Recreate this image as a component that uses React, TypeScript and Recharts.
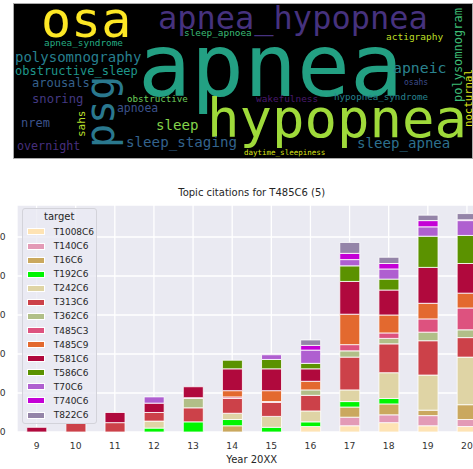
import {
  Bar,
  BarChart,
  CartesianGrid,
  Legend,
  Scatter,
  ScatterChart,
  XAxis,
  YAxis,
} from "recharts";

// ---- word cloud ----
const words = [
  "osa", "apnea_hypopnea", "apnea", "hypopnea", "psg", "polysomnography",
  "apnea_syndrome", "sleep_apnoea", "actigraphy", "polysomnogram", "nocturnal",
  "obstructive_sleep", "apneic", "arousals", "osahs", "snoring", "obstructive",
  "wakefulness", "hypopnea_syndrome", "apnoea", "sahs", "sleep", "nrem",
  "overnight", "sleep_staging", "sleep_apnea", "daytime_sleepiness",
];
const wordX = [41, 158, 138, 207, 114, 15, 44, 184, 386, 462, 472, 15, 393, 32, 404, 32, 127, 256, 334, 117, 85, 156, 21, 17, 126, 357, 244];
const wordY = [37, 29, 96, 137, 148, 62, 46, 36, 40, 102, 127, 75, 73, 87, 85, 103, 102, 102, 100, 112, 137, 130, 127, 150, 147, 148, 155];
const wordSize = [50, 32, 88, 54, 40, 14, 9.4, 9.4, 9.5, 12, 10.7, 12, 14.8, 12, 8, 12.2, 9.2, 9.4, 9.2, 11.4, 11, 14.1, 12, 11.7, 14.2, 14.1, 7.5];
const wordColor = [
  "#FDE725", "#46327E", "#23A083", "#9FDA3A", "#2A788E", "#277F8E",
  "#25AB82", "#3BBB75", "#BDDF26", "#3DBC74", "#DDE318", "#1F968B",
  "#2A828E", "#35608D", "#3E4C8A", "#443983", "#6CCD5A", "#481A6C",
  "#26828E", "#3B528B", "#B5DE2B", "#84D44B", "#3B528B", "#472F7D",
  "#33638D", "#2D718E", "#DDE318",
];
const wordAngle = [0, 0, 0, 0, -90, 0, 0, 0, 0, -90, -90, 0, 0, 0, 0, 0, 0, 0, 0, 0, -90, 0, 0, 0, 0, 0, 0];

const cloudData = words.map((w, i) => ({
  word: w,
  x: wordX[i],
  y: wordY[i],
  size: wordSize[i],
  color: wordColor[i],
  angle: wordAngle[i],
}));

// ---- bar chart ----
const years = ["9", "10", "11", "12", "13", "14", "15", "16", "17", "18", "19", "20"];
const T1008C6 = [0, 0, 0, 0, 0, 0, 0, 7, 8, 12, 8, 7];
const T140C6 = [0, 0, 0, 0, 0, 0, 0, 0, 11, 10, 13, 9];
const T16C6 = [0, 0, 0, 0, 0, 8, 0, 0, 13, 14, 7, 19];
const T192C6 = [0, 0, 0, 5, 13, 8, 6, 6, 7, 7, 0, 0];
const T242C6 = [0, 0, 0, 9, 0, 8, 14, 14, 15, 33, 45, 61];
const T313C6 = [0, 12, 12, 11, 18, 19, 18, 20, 42, 37, 44, 25];
const T362C6 = [0, 0, 0, 0, 12, 0, 0, 7, 8, 7, 11, 10];
const T485C3 = [0, 0, 0, 0, 1, 2, 1, 0, 8, 7, 17, 28];
const T485C9 = [0, 0, 0, 0, 0, 8, 14, 11, 39, 23, 20, 19];
const T581C6 = [6, 0, 13, 12, 14, 28, 28, 16, 42, 32, 46, 38];
const T586C6 = [0, 0, 0, 0, 0, 11, 12, 7, 20, 14, 40, 36];
const T70C6 = [0, 0, 0, 8, 0, 0, 6, 17, 8, 13, 12, 19];
const T740C6 = [0, 0, 0, 0, 0, 0, 0, 6, 8, 7, 8, 1];
const T822C6 = [0, 0, 0, 0, 0, 0, 0, 7, 14, 8, 7, 8];
const yTicks = [0, 50, 100, 150, 200, 250];

const series = [
  { name: "T1008C6", values: T1008C6, color: "#FEE3B4" },
  { name: "T140C6", values: T140C6, color: "#E39AB6" },
  { name: "T16C6", values: T16C6, color: "#CAA85E" },
  { name: "T192C6", values: T192C6, color: "#00F500" },
  { name: "T242C6", values: T242C6, color: "#DFD4A5" },
  { name: "T313C6", values: T313C6, color: "#CC4149" },
  { name: "T362C6", values: T362C6, color: "#B1BF88" },
  { name: "T485C3", values: T485C3, color: "#DD527F" },
  { name: "T485C9", values: T485C9, color: "#E3692F" },
  { name: "T581C6", values: T581C6, color: "#B0093D" },
  { name: "T586C6", values: T586C6, color: "#5B9200" },
  { name: "T70C6", values: T70C6, color: "#AF5FD0" },
  { name: "T740C6", values: T740C6, color: "#C400D6" },
  { name: "T822C6", values: T822C6, color: "#9484A8" },
];

const table = years.map((year, i) => {
  const row: Record<string, string | number> = { year };
  series.forEach((s) => (row[s.name] = s.values[i]));
  return row;
});

const SANS = "'DejaVu Sans', sans-serif";
const MONO = "'DejaVu Sans Mono', monospace";

const WordShape = (props: any) => {
  const { cx, cy, payload } = props;
  return (
    <text
      x={cx}
      y={cy}
      fontSize={payload.size}
      fill={payload.color}
      fontFamily={MONO}
      transform={payload.angle ? `rotate(${payload.angle} ${cx} ${cy})` : undefined}
    >
      {payload.word}
    </text>
  );
};

const LegendBox = (props: any) => {
  const items = props.payload || [];
  return (
    <div
      style={{
        position: "relative",
        width: 75,
        height: 216,
        boxSizing: "border-box",
        border: "1px solid #d3d3da",
        borderRadius: 3,
        background: "rgba(234,234,242,0.8)",
        fontFamily: SANS,
        color: "#262626",
      }}
    >
      <div
        style={{
          position: "absolute",
          left: 0,
          width: "100%",
          top: 1,
          textAlign: "center",
          fontSize: 10,
          lineHeight: "13px",
        }}
      >
        target
      </div>
      {items.map((it: any, i: number) => (
        <div key={it.value}>
          <div
            style={{
              position: "absolute",
              left: 4,
              top: 22.7 + i * 14.08 - 3.5,
              width: 18,
              height: 7,
              boxSizing: "border-box",
              border: "0.8px solid #fff",
              background: it.color,
            }}
          />
          <div
            style={{
              position: "absolute",
              left: 31,
              top: 22.7 + i * 14.08 - 6,
              fontSize: 9,
              lineHeight: "12px",
              whiteSpace: "nowrap",
            }}
          >
            {it.value}
          </div>
        </div>
      ))}
    </div>
  );
};

export default function App() {
  return (
    <div
      style={{
        position: "fixed",
        left: 0,
        top: 0,
        width: 473,
        height: 469,
        overflow: "hidden",
        background: "#fff",
        fontFamily: SANS,
      }}
    >
      <div
        style={{
          position: "absolute",
          left: 14,
          top: 4,
          width: 458,
          height: 154,
          background: "#000",
          outline: "1px solid #aaa",
        }}
      >
        <ScatterChart width={458} height={154} margin={{ top: 0, right: 0, bottom: 0, left: 0 }}>
          <XAxis type="number" dataKey="x" domain={[14, 472]} allowDataOverflow hide />
          <YAxis type="number" dataKey="y" domain={[4, 158]} allowDataOverflow reversed hide />
          <Scatter data={cloudData} shape={<WordShape />} isAnimationActive={false} />
        </ScatterChart>
      </div>

      <div style={{ position: "absolute", left: 0, top: 170, width: 490, height: 299 }}>
        <div
          style={{
            position: "absolute",
            left: 17,
            width: 469.5,
            top: 17,
            textAlign: "center",
            fontSize: 10,
            lineHeight: "12px",
            color: "#262626",
            whiteSpace: "nowrap",
          }}
        >
          Topic citations for T485C6 (5)
        </div>
        <BarChart
          width={490}
          height={299}
          data={table}
          margin={{ top: 35, right: 3.5, bottom: 0, left: 0 }}
          barCategoryGap="25%"
        >
          <CartesianGrid fill="#EAEAF2" fillOpacity={1} stroke="#fff" strokeWidth={1.3} />
          <XAxis
            dataKey="year"
            height={37}
            interval={0}
            tickLine={false}
            axisLine={false}
            tickMargin={4}
            tick={{ fontSize: 9.2, fill: "#333", fontFamily: SANS }}
            label={{
              value: "Year 20XX",
              position: "insideBottom",
              offset: 6,
              fontSize: 10,
              fill: "#262626",
              fontFamily: SANS,
            }}
          />
          <YAxis
            width={17}
            domain={[0, 291]}
            ticks={yTicks}
            allowDataOverflow
            tickLine={false}
            axisLine={false}
            tickMargin={5.5}
            tick={{ fontSize: 9.2, fill: "#333", fontFamily: SANS }}
          />
          {series.map((s) => (
            <Bar
              key={s.name}
              dataKey={s.name}
              stackId="a"
              fill={s.color}
              stroke="#fff"
              strokeWidth={0.8}
              isAnimationActive={false}
            />
          ))}
          <Legend
            layout="vertical"
            align="center"
            verticalAlign="middle"
            wrapperStyle={{ position: "absolute", left: 21.7, top: 38.3, width: 75 }}
            content={<LegendBox />}
          />
        </BarChart>
      </div>
    </div>
  );
}
